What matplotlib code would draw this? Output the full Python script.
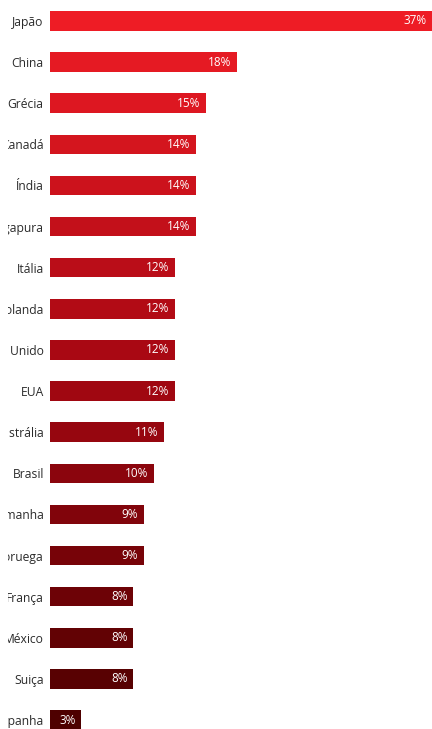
import matplotlib
matplotlib.use("Agg")
import matplotlib.pyplot as plt
import numpy as np
from matplotlib.colors import LinearSegmentedColormap
from matplotlib.transforms import Bbox, TransformedBbox

plt.rcParams['font.family'] = ['Open Sans', 'DejaVu Sans']

countries = ["Japão", "China", "Grécia", "Canadá", "Índia", "Singapura", "Itália",
             "Holanda", "Reino Unido", "EUA", "Austrália", "Brasil", "Alemanha",
             "Noruega", "França", "México", "Suiça", "Espanha"]
values = [37, 18, 15, 14, 14, 14, 12, 12, 12, 12, 11, 10, 9, 9, 8, 8, 8, 3]

W, H = 432, 729
fig = plt.figure(figsize=(W / 100, H / 100), dpi=100)

# axes start at the bar origin, run past the right edge (the 37% bar gets cut)
ax = fig.add_axes([50 / W, 0, (W - 50) / W, 1])
px_per_unit = 10.4
ax.set_xlim(0, (W - 50) / px_per_unit)
step = (720 - 21) / 17
ax.set_ylim(17 + (H - 720) / step, -21 / step)

cmap = LinearSegmentedColormap.from_list("reds", ["#ee1c25", "#a50712", "#4e0000"])
colors = [cmap(i / (len(values) - 1)) for i in range(len(values))]

y = np.arange(len(values))
ax.barh(y, values, height=19.5 / step, color=colors, clip_on=True)

for yi, v in zip(y, values):
    ax.annotate(f"{v}%", xy=(min(v, ax.get_xlim()[1]), yi), xytext=(-4, 0),
                textcoords="offset points", ha="right", va="center",
                color="white", fontsize=8.5)

ax.set_yticks(y)
ax.set_yticklabels(countries, fontsize=8.7, color="#2b2b2b")
ax.tick_params(axis="y", length=0, pad=4.5)
ax.set_xticks([])
for s in ax.spines.values():
    s.set_visible(False)

# long names are cut by a narrow label column, as in the original
label_box = TransformedBbox(Bbox([[8 / W, 0], [1, 1]]), fig.transFigure)
for lbl in ax.get_yticklabels():
    lbl.set_clip_on(True)
    lbl.set_clip_box(label_box)

fig.savefig("out.png", dpi=100)
